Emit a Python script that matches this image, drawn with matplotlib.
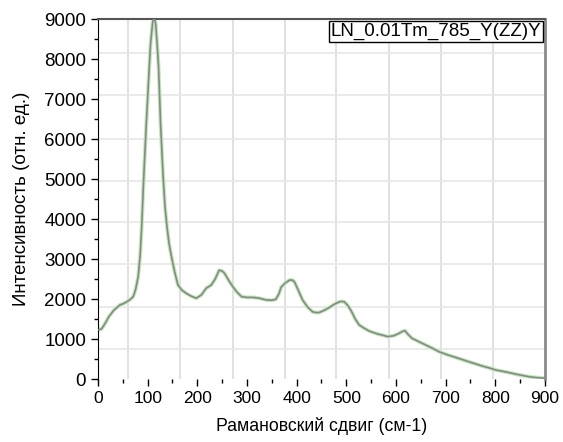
import matplotlib.pyplot as plt
import numpy as np

plt.rcParams['font.family'] = ['Liberation Sans', 'DejaVu Sans']

# Raman spectrum
shift = [0, 7, 14, 22, 32, 44, 52, 58, 65, 71, 76, 81, 85, 88, 92, 97, 102,
         106, 110, 113, 116, 119, 122, 126, 131, 135, 139, 143, 148, 154, 161,
         169, 178, 188, 198, 208, 218, 228, 236, 244, 250, 255, 263, 272, 280,
         289, 300, 312, 325, 339, 350, 358, 364, 369, 377, 386, 392, 396, 404,
         412, 422, 432, 440, 446, 456, 466, 476, 486, 491, 496, 503, 510, 518,
         526, 536, 546, 555, 565, 575, 583, 595, 606, 613, 618, 624, 632, 645,
         660, 675, 687, 705, 720, 735, 747, 760, 775, 790, 801, 818, 835, 850,
         867, 880, 893, 900]
intensity = [1230, 1250, 1380, 1560, 1720, 1850, 1890, 1930, 1990, 2060,
             2250, 2560, 3100, 3800, 5000, 6300, 7500, 8400, 8900, 9050, 8900,
             8400, 7800, 6400, 5100, 4300, 3800, 3400, 3060, 2700, 2350, 2220,
             2140, 2070, 2020, 2100, 2270, 2350, 2500, 2720, 2700, 2640, 2470,
             2300, 2170, 2060, 2040, 2040, 2020, 1975, 1970, 1990, 2120, 2300,
             2400, 2475, 2470, 2420, 2200, 1975, 1800, 1680, 1660, 1665, 1720,
             1790, 1870, 1930, 1940, 1930, 1840, 1700, 1500, 1350, 1270, 1200,
             1160, 1120, 1090, 1060, 1080, 1140, 1190, 1210, 1120, 1020, 940,
             850, 760, 680, 600, 540, 480, 430, 380, 320, 270, 225, 185, 140,
             100, 60, 40, 25, 20]

# light background grid of the source image
grid_x = [60, 165, 271, 376, 480, 585, 690, 795]
grid_y = [750, 1800, 2870, 3930, 4950, 6000, 7100, 8150]

fig = plt.figure(figsize=(5.63, 4.42), dpi=100)
ax = fig.add_axes([0.174, 0.1425, 0.794, 0.8145])

for gx in grid_x:
    ax.axvline(gx, color='#dcdcdc', lw=1.2, zorder=0)
for gy in grid_y:
    ax.axhline(gy, color='#e6e6e6', lw=1.2, zorder=0)

ax.plot(shift, intensity, color='#c6e6bf', lw=2.8, zorder=2)
ax.plot(shift, intensity, color='#868a86', lw=1.2, zorder=3)

ax.set_xlim(0, 900)
ax.set_ylim(0, 9000)
ax.set_xticks(np.arange(0, 901, 100))
ax.set_xticks(np.arange(0, 901, 50), minor=True)
ax.set_yticks(np.arange(0, 9001, 1000))
ax.set_yticks(np.arange(0, 9001, 500), minor=True)
ax.tick_params(which='both', direction='out', colors='black')
ax.tick_params(axis='x', labelsize=12.5)
ax.tick_params(axis='y', labelsize=13.5)
ax.tick_params(which='major', length=5, width=1)
ax.tick_params(which='minor', length=3, width=1)

ax.spines['bottom'].set_visible(False)
ax.spines['left'].set_color('black')
ax.spines['top'].set_color('#555555')
ax.spines['top'].set_linewidth(1.5)
ax.spines['right'].set_color('#8a8a8a')
ax.spines['right'].set_linewidth(2)

ax.set_xlabel('Рамановский сдвиг (см-1)', fontsize=12.7, labelpad=8)
ax.set_ylabel('Интенсивность (отн. ед.)', fontsize=13.5, labelpad=10)

ax.text(0.992, 0.99, 'LN_0.01Tm_785_Y(ZZ)Y', transform=ax.transAxes,
        ha='right', va='top', fontsize=13.5,
        bbox=dict(boxstyle='square,pad=0.1', fc='white', ec='black', lw=1))

fig.savefig('out.png', dpi=100)
